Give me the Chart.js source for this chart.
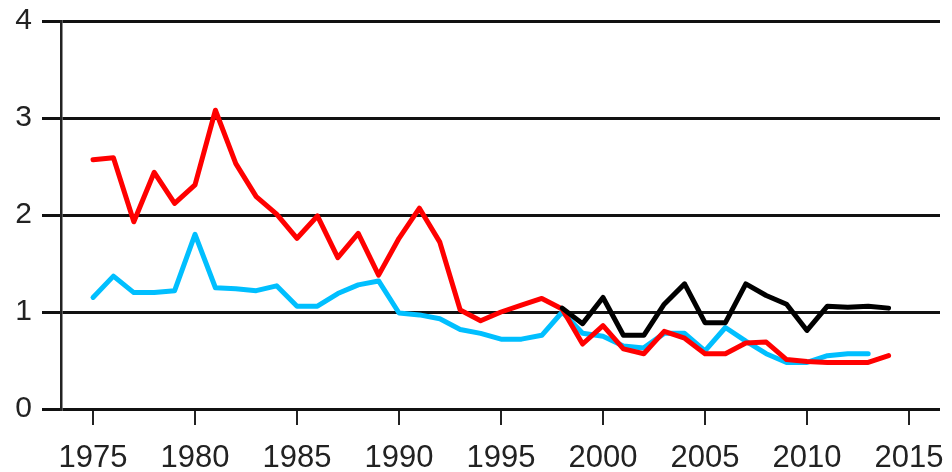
<!DOCTYPE html>
<html>
<head>
<meta charset="utf-8">
<script src="https://cdn.jsdelivr.net/npm/chart.js@4/dist/chart.umd.min.js"></script>
<style>
  html, body { margin: 0; padding: 0; background: #fff; }
  #wrap { width: 952px; height: 472px; }
</style>
</head>
<body>
<div id="wrap"><canvas id="c" width="952" height="472"></canvas></div>
<script>
const years = [1975,1976,1977,1978,1979,1980,1981,1982,1983,1984,1985,1986,1987,1988,1989,1990,1991,1992,1993,1994,1995,1996,1997,1998,1999,2000,2001,2002,2003,2004,2005,2006,2007,2008,2009,2010,2011,2012,2013,2014];
const redValues = [2.57,2.59,1.93,2.44,2.12,2.31,3.08,2.53,2.19,2.01,1.76,1.99,1.56,1.81,1.38,1.76,2.07,1.72,1.02,0.91,1.0,1.07,1.14,1.03,0.67,0.86,0.62,0.57,0.8,0.73,0.57,0.57,0.68,0.69,0.51,0.49,0.48,0.48,0.48,0.55];
const cyanValues = [1.15,1.37,1.2,1.2,1.22,1.8,1.25,1.24,1.22,1.27,1.06,1.06,1.19,1.28,1.32,0.99,0.97,0.93,0.82,0.78,0.72,0.72,0.76,1.0,0.78,0.75,0.65,0.63,0.78,0.78,0.6,0.84,0.7,0.57,0.48,0.48,0.55,0.57,0.57,null];
const blackYears = [1998,1999,2000,2001,2002,2003,2004,2005,2006,2007,2008,2009,2010,2011,2012,2013,2014];
const blackValues = [1.04,0.88,1.15,0.76,0.76,1.08,1.29,0.89,0.89,1.29,1.17,1.08,0.81,1.06,1.05,1.06,1.04];
const xTicks = [1975,1980,1985,1990,1995,2000,2005,2010,2015];
const yTicks = [0,1,2,3,4];

const pts = (xs, ys) => xs.map((x, i) => ({x: x, y: ys[i]})).filter(p => p.y !== null);

const lineStyle = { borderWidth: 5, pointRadius: 0, tension: 0, fill: false, borderJoinStyle: 'round', borderCapStyle: 'round' };

new Chart(document.getElementById('c'), {
  type: 'line',
  data: {
    datasets: [
      Object.assign({ label: 'black', data: pts(blackYears, blackValues), borderColor: '#000000' }, lineStyle),
      Object.assign({ label: 'red', data: pts(years, redValues), borderColor: '#ff0000' }, lineStyle),
      Object.assign({ label: 'cyan', data: pts(years, cyanValues), borderColor: '#00bfff' }, lineStyle)
    ]
  },
  options: {
    responsive: false,
    animation: false,
    layout: { padding: { top: 21, right: 12, left: 0, bottom: 0 } },
    plugins: { legend: { display: false }, tooltip: { enabled: false }, title: { display: false } },
    scales: {
      x: {
        type: 'linear',
        min: 1973.43,
        max: 2016.52,
        afterBuildTicks: (s) => { s.ticks = xTicks.map(v => ({ value: v })); },
        afterFit: (s) => { s.height = 63; s.paddingLeft = 0; s.paddingRight = 0; },
        ticks: {
          color: '#222',
          font: { family: 'Liberation Sans, Arial, sans-serif', size: 31 },
          padding: 15,
          maxRotation: 0,
          autoSkip: false,
          callback: (v) => String(v)
        },
        grid: { display: true, drawOnChartArea: false, drawTicks: true, tickLength: 16, color: '#222', lineWidth: 2 },
        border: { display: false }
      },
      y: {
        min: 0,
        max: 4,
        afterBuildTicks: (s) => { s.ticks = yTicks.map(v => ({ value: v })); },
        afterFit: (s) => { s.width = 61; s.paddingTop = 0; s.paddingBottom = 0; },
        ticks: {
          color: '#222',
          font: { family: 'Liberation Sans, Arial, sans-serif', size: 30 },
          padding: 10,
          callback: (v) => String(v)
        },
        grid: { display: true, drawOnChartArea: true, drawTicks: true, tickLength: 19, color: '#111', lineWidth: 3 },
        border: { display: true, color: '#222', width: 2.5 }
      }
    }
  }
});
</script>
</body>
</html>
